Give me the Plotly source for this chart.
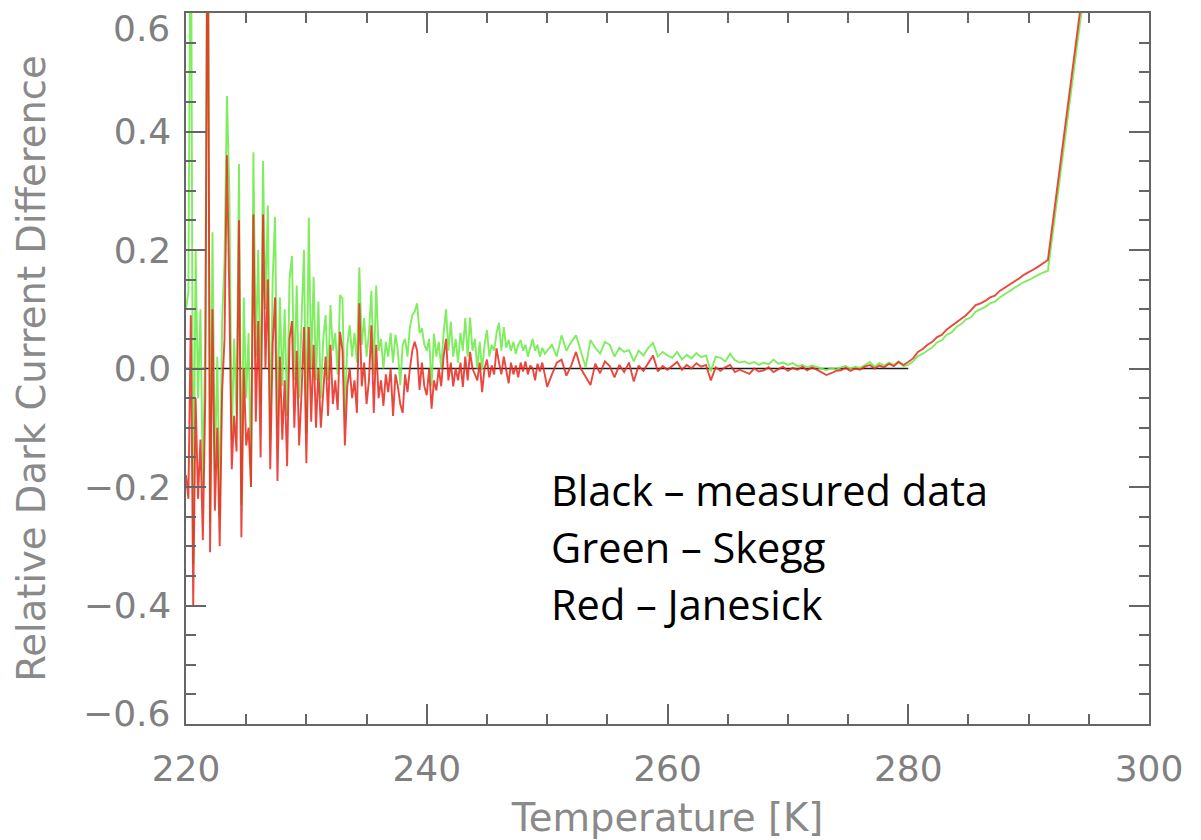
import plotly.graph_objects as go

# ---------------- data ----------------
# temperature sampling: 0.2 K steps 220.0-250.0, 0.4 K steps 250.4-291.6, last point 296 K
fine_start, fine_step, fine_n = 220.0, 0.2, 151
coarse_start, coarse_step, coarse_n = 250.4, 0.4, 104
last_temp = 296.0

skegg_fine = [  # green, 220.0 ... 250.0 K
    0.10, 0.13, 0.90, -0.33, 0.20,
    -0.05, 0.10, -0.20, 0.05, 0.95,
    -0.26, 0.23, -0.17, 0.02, -0.25,
    0.08, 0.18, 0.46, 0.30, -0.12,
    0.05, -0.08, 0.345, -0.23, 0.12,
    -0.05, 0.06, -0.20, 0.365, 0.02,
    0.20, -0.06, 0.35, 0.10, 0.275,
    -0.12, 0.15, 0.256, -0.10, 0.12,
    -0.03, 0.10, -0.08, 0.15, 0.19,
    -0.02, 0.14, -0.05, 0.08, 0.20,
    -0.11, 0.255, 0.00, 0.155, -0.02,
    0.113, -0.05, 0.05, 0.09, -0.02,
    0.107, 0.03, 0.06, -0.01, 0.124,
    0.118, -0.08, 0.04, 0.073, 0.02,
    0.06, 0.01, 0.171, 0.04, 0.085,
    0.02, 0.06, 0.131, -0.01, 0.14,
    0.03, 0.05, 0.00, 0.045, 0.02,
    0.06, 0.01, 0.057, 0.03, -0.028,
    0.04, 0.05, 0.02, 0.07, 0.09,
    0.096, 0.11, 0.06, 0.068, 0.04,
    0.03, 0.05, -0.03, 0.059, 0.02,
    0.045, 0.00, 0.06, 0.10, 0.03,
    0.079, 0.02, 0.05, 0.01, 0.06,
    0.03, 0.085, 0.02, 0.086, 0.03,
    0.05, 0.00, 0.045, -0.003, 0.04,
    0.065, 0.02, 0.04, 0.03, 0.06,
    0.077, 0.03, 0.07, 0.035, 0.048,
    0.03, 0.045, 0.025, 0.04, 0.048,
    0.03, 0.04, 0.02, 0.035, 0.05,
    0.03, 0.04, 0.02, 0.035, 0.025,
    0.03,
]
janesick_fine = [  # red, 220.0 ... 250.0 K
    -0.18, -0.22, 0.09, -0.40, -0.05,
    -0.22, -0.12, -0.29, -0.05, 0.90,
    -0.31, 0.10, -0.24, -0.10, -0.30,
    -0.04, 0.05, 0.36, 0.12, -0.17,
    -0.08, -0.14, 0.25, -0.285, 0.00,
    -0.13, -0.10, -0.20, 0.26, -0.09,
    0.08, -0.15, 0.26, 0.00, 0.15,
    -0.17, 0.04, 0.12, -0.19, 0.02,
    -0.12, -0.02, -0.165, 0.05, 0.08,
    -0.10, 0.03, -0.13, -0.04, 0.07,
    -0.16, 0.07, -0.09, 0.04, -0.10,
    0.00, -0.10, -0.04, 0.02, -0.08,
    0.04, -0.06, -0.02, -0.07, 0.062,
    0.03, -0.13, -0.03, 0.00, -0.05,
    -0.02, -0.075, 0.11, -0.03, 0.01,
    -0.06, -0.02, 0.073, -0.075, 0.04,
    -0.05, -0.02, -0.063, -0.01, -0.04,
    0.00, -0.08, -0.01, -0.03, -0.06,
    -0.075, -0.01, -0.04, 0.00, 0.03,
    0.045, 0.03, -0.036, 0.01, -0.03,
    -0.045, 0.00, -0.068, -0.02, -0.037,
    0.00, -0.03, 0.02, 0.05, -0.02,
    0.01, -0.03, 0.00, -0.02, 0.01,
    -0.031, 0.02, -0.02, 0.028, 0.00,
    -0.01, -0.02, 0.01, -0.04, 0.00,
    0.015, -0.015, 0.005, -0.01, 0.034,
    0.01, -0.01, 0.02, -0.005, -0.025,
    0.01, -0.01, 0.005, -0.015, 0.01,
    -0.005, 0.012, -0.01, 0.005, 0.00,
    -0.02, 0.008, -0.005, 0.01, -0.01,
    -0.031,
]
skegg_coarse = [  # green, 250.4 ... 291.6 K
    0.040, 0.020, 0.056, 0.030, 0.045,
    0.056, 0.030, 0.002, 0.048, 0.035,
    0.025, 0.045, 0.040, 0.020, 0.035,
    0.028, 0.031, 0.012, 0.030, 0.022,
    0.035, 0.043, 0.020, 0.028, 0.022,
    0.018, 0.028, 0.015, 0.023, 0.017,
    0.026, 0.019, 0.022, -0.005, 0.020,
    0.018, 0.012, 0.025, 0.014, 0.010,
    0.012, 0.008, 0.011, 0.006, 0.010,
    0.007, 0.015, 0.008, 0.010, 0.006,
    0.009, 0.004, 0.006, 0.002, 0.005,
    0.003, 0.000, -0.003, 0.001, -0.002,
    0.002, 0.004, 0.000, 0.003, 0.001,
    0.006, 0.011, 0.003, 0.009, 0.005,
    0.010, 0.006, 0.012, 0.004, 0.006,
    0.012, 0.021, 0.025, 0.030, 0.036,
    0.044, 0.048, 0.057, 0.061, 0.070,
    0.075, 0.083, 0.086, 0.096, 0.100,
    0.104, 0.110, 0.113, 0.120, 0.125,
    0.130, 0.135, 0.140, 0.146, 0.149,
    0.154, 0.158, 0.162, 0.165,
]
janesick_coarse = [  # red, 250.4 ... 291.6 K
    -0.010, 0.010, 0.015, -0.012, 0.005,
    0.028, 0.000, -0.015, -0.028, 0.008,
    -0.008, 0.012, 0.004, -0.015, 0.006,
    -0.006, 0.010, -0.022, 0.005, -0.004,
    0.008, 0.022, -0.005, 0.004, -0.002,
    0.004, 0.011, -0.002, 0.006, 0.000,
    0.009, 0.003, 0.006, -0.020, 0.002,
    -0.004, 0.002, 0.006, -0.006, -0.002,
    -0.006, -0.009, 0.000, -0.005, -0.003,
    0.002, -0.006, -0.002, 0.003, -0.004,
    0.001, -0.002, 0.003, -0.003, 0.002,
    -0.002, -0.006, -0.011, -0.008, -0.004,
    -0.003, 0.001, -0.004, 0.000, -0.002,
    0.003, 0.006, 0.000, 0.005, 0.002,
    0.008, 0.004, 0.011, 0.006, 0.011,
    0.017, 0.028, 0.033, 0.040, 0.045,
    0.053, 0.057, 0.066, 0.072, 0.079,
    0.085, 0.090, 0.098, 0.107, 0.110,
    0.114, 0.120, 0.123, 0.131, 0.136,
    0.141, 0.147, 0.152, 0.158, 0.162,
    0.167, 0.172, 0.177, 0.183,
]
skegg_last = 0.855
janesick_last = 0.875

measured_temp = [220.0, 280.0]
measured_vals = [0.0, 0.0]

x_ticks = [220, 240, 260, 280, 300]
y_ticks = [-0.6, -0.4, -0.2, 0.0, 0.2, 0.4, 0.6]
y_tick_text = ["", "\u22120.4", "\u22120.2", "0.0", "0.2", "0.4", ""]
y_edge_labels = [(0.6, "0.6"), (-0.6, "\u22120.6")]   # drawn inset, like the reference

legend_lines = ["Black \u2013 measured data", "Green \u2013 Skegg", "Red \u2013 Janesick"]

# ---------------- build series ----------------
temps = ([round(fine_start + fine_step * i, 2) for i in range(fine_n)]
         + [round(coarse_start + coarse_step * i, 2) for i in range(coarse_n)]
         + [last_temp])
skegg = skegg_fine + skegg_coarse + [skegg_last]
janesick = janesick_fine + janesick_coarse + [janesick_last]

fig = go.Figure()
fig.add_trace(go.Scatter(x=measured_temp, y=measured_vals, mode="lines",
                         line=dict(color="#1a1a1a", width=1.7), name="measured"))
fig.add_trace(go.Scatter(x=temps, y=skegg, mode="lines", opacity=0.9,
                         line=dict(color="#72ec4e", width=1.9), name="Skegg"))
fig.add_trace(go.Scatter(x=temps, y=janesick, mode="lines", opacity=0.85,
                         line=dict(color="#e8281e", width=1.9), name="Janesick"))

axis_col = "#666666"
tick_font = dict(family="DejaVu Sans", size=36, color="#808080")
title_font = dict(family="DejaVu Sans", size=38.5, color="#8a8a8a")

fig.update_xaxes(range=[220, 300], tickvals=x_ticks, ticks="inside", ticklen=20,
                 tickwidth=1.5, tickcolor=axis_col, showline=True, linecolor=axis_col,
                 linewidth=1.5, mirror="ticks", showgrid=False, zeroline=False,
                 tickfont=tick_font, ticklabelstandoff=12,
                 minor=dict(ticks="inside", ticklen=10, dtick=5, tick0=220,
                            tickcolor=axis_col, tickwidth=1.5, showgrid=False),
                 title=dict(text="Temperature [K]", font=title_font, standoff=22),
                 automargin=False)
fig.update_yaxes(range=[-0.6, 0.6], tickvals=y_ticks, ticktext=y_tick_text,
                 ticks="inside", ticklen=20, tickwidth=1.5, tickcolor=axis_col,
                 showline=True, linecolor=axis_col, linewidth=1.5, mirror="ticks",
                 showgrid=False, zeroline=False, tickfont=tick_font,
                 ticklabelstandoff=6,
                 minor=dict(ticks="inside", ticklen=10, dtick=0.05, tick0=0,
                            tickcolor=axis_col, tickwidth=1.5, showgrid=False),
                 title=dict(text="Relative Dark Current Difference", font=title_font,
                            standoff=26),
                 automargin=False)

for val, txt in y_edge_labels:
    fig.add_annotation(text=txt, xref="paper", yref="y", x=0, y=val, xshift=-14,
                       yshift=-15 if val > 0 else 11, xanchor="right",
                       yanchor="middle", showarrow=False, font=tick_font)

legend_y = [0.329, 0.249, 0.169]
for txt, yy in zip(legend_lines, legend_y):
    fig.add_annotation(text=txt, xref="paper", yref="paper", x=0.3765, y=yy,
                       xanchor="left", yanchor="middle", showarrow=False,
                       font=dict(family="Open Sans", size=41.5, color="#000000"))

fig.update_layout(width=1201, height=840, margin=dict(l=186, r=52, t=13, b=116),
                  paper_bgcolor="white", plot_bgcolor="white", showlegend=False)

fig.write_html("out.html")
